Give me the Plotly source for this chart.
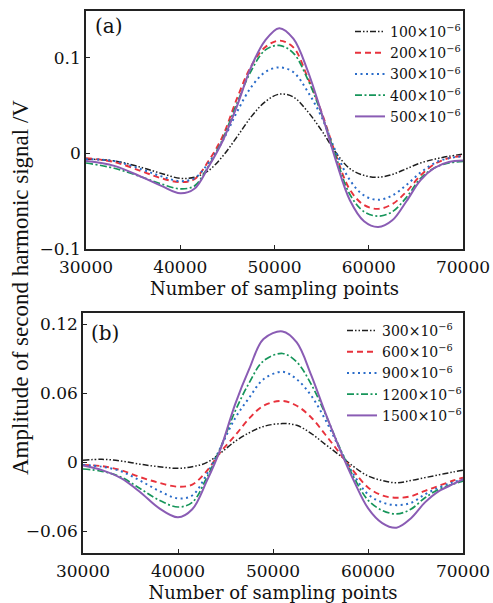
import plotly.graph_objects as go

# ---------------- data: panel (a) ----------------
xa = [30000, 33000, 36000, 38000, 40000, 41500, 43000, 44500, 46000, 47500, 49000,
      50500, 52000, 53500, 55000, 56500, 58000, 59500, 61000, 62500, 64000, 65500,
      67000, 68500, 70000]
a_names = ["100×10<sup>−6</sup>", "200×10<sup>−6</sup>", "300×10<sup>−6</sup>",
           "400×10<sup>−6</sup>", "500×10<sup>−6</sup>"]
a_100 = [-0.006, -0.0078, -0.015, -0.021, -0.026, -0.025, -0.018, -0.003, 0.017, 0.038, 0.054,
         0.062, 0.059, 0.044, 0.024, 0.001, -0.016, -0.023, -0.025, -0.022, -0.016, -0.010,
         -0.006, -0.003, -0.0007]
a_200 = [-0.005, -0.009, -0.019, -0.026, -0.030, -0.027, -0.008, 0.018, 0.057, 0.091, 0.111,
         0.118, 0.111, 0.080, 0.043, -0.001, -0.038, -0.054, -0.058, -0.053, -0.040, -0.023,
         -0.011, -0.005, -0.0024]
a_300 = [-0.006, -0.008, -0.017, -0.024, -0.029, -0.026, -0.010, 0.013, 0.043, 0.069, 0.085,
         0.090, 0.085, 0.065, 0.038, 0.002, -0.028, -0.044, -0.0486, -0.044, -0.033, -0.020,
         -0.010, -0.005, -0.003]
a_400 = [-0.010, -0.0155, -0.025, -0.032, -0.037, -0.034, -0.013, 0.015, 0.052, 0.086, 0.108,
         0.113, 0.105, 0.078, 0.041, -0.003, -0.043, -0.061, -0.0656, -0.061, -0.046, -0.026,
         -0.015, -0.010, -0.0083]
a_500 = [-0.008, -0.013, -0.025, -0.034, -0.0417, -0.037, -0.014, 0.013, 0.049, 0.090, 0.118,
         0.131, 0.120, 0.087, 0.042, -0.007, -0.049, -0.071, -0.077, -0.070, -0.050, -0.028,
         -0.015, -0.009, -0.0075]

# ---------------- data: panel (b) ----------------
xb = [30000, 32000, 34000, 36000, 38000, 40000, 41500, 43000, 44500, 46000, 47500, 49000,
      51000, 52500, 54000, 55500, 57000, 58500, 60000, 61500, 63000, 64500, 66000, 67500,
      69000, 70000]
b_names = ["300×10<sup>−6</sup>", "600×10<sup>−6</sup>", "900×10<sup>−6</sup>",
           "1200×10<sup>−6</sup>", "1500×10<sup>−6</sup>"]
b_300 = [0.0016, 0.0024, 0.001, -0.0018, -0.004, -0.0054, -0.004, -0.0005, 0.008, 0.018, 0.0255,
         0.031, 0.0335, 0.032, 0.025, 0.0155, 0.006, -0.004, -0.012, -0.016, -0.018, -0.016,
         -0.0135, -0.011, -0.0085, -0.0071]
b_600 = [-0.0025, -0.0035, -0.007, -0.013, -0.018, -0.0214, -0.0195, -0.008, 0.009, 0.023,
         0.038, 0.049, 0.0532, 0.049, 0.039, 0.024, 0.008, -0.008, -0.022, -0.029, -0.031,
         -0.0297, -0.025, -0.0205, -0.016, -0.0136]
b_900 = [-0.0025, -0.004, -0.008, -0.016, -0.025, -0.0315, -0.029, -0.011, 0.013, 0.038, 0.056,
         0.072, 0.0785, 0.072, 0.058, 0.037, 0.012, -0.011, -0.028, -0.035, -0.0374, -0.0355,
         -0.028, -0.022, -0.0175, -0.015]
b_1200 = [-0.006, -0.008, -0.013, -0.023, -0.033, -0.039, -0.035, -0.014, 0.013, 0.044, 0.069,
          0.088, 0.0944, 0.087, 0.068, 0.042, 0.013, -0.013, -0.033, -0.042, -0.045, -0.041,
          -0.031, -0.0235, -0.019, -0.0165]
b_1500 = [-0.003, -0.007, -0.014, -0.026, -0.040, -0.048, -0.041, -0.017, 0.012, 0.050, 0.081,
          0.107, 0.1136, 0.104, 0.076, 0.043, 0.012, -0.016, -0.040, -0.053, -0.057, -0.049,
          -0.035, -0.025, -0.019, -0.015]

x_ticks = [30000, 40000, 50000, 60000, 70000]
x_ticktext = ["30000", "40000", "50000", "60000", "70000"]
ya_ticks = [-0.1, 0, 0.1]
ya_ticktext = ["−0.1", "0", "0.1"]
yb_ticks = [-0.06, 0, 0.06, 0.12]
yb_ticktext = ["−0.06", "0", "0.06", "0.12"]

# ---------------- styles ----------------
colors = ["#1e1e1e", "#e8323c", "#2a6cc9", "#16955a", "#8a5cb4"]
dashes = ["6px,2px,1.5px,2px,1.5px,2px", "6px,4px", "2px,3.5px", "7px,2.5px,2px,2.5px", "solid"]
widths = [1.5, 1.9, 2.0, 1.7, 2.0]

SERIF = "DejaVu Serif"
fig = go.Figure()

for ys, nm, c, d, w in zip([a_100, a_200, a_300, a_400, a_500], a_names, colors, dashes, widths):
    fig.add_trace(go.Scatter(x=xa, y=ys, name=nm, mode="lines",
                             line=dict(color=c, dash=d, width=w, shape="spline", smoothing=1.0),
                             xaxis="x", yaxis="y", legend="legend"))
for ys, nm, c, d, w in zip([b_300, b_600, b_900, b_1200, b_1500], b_names, colors, dashes, widths):
    fig.add_trace(go.Scatter(x=xb, y=ys, name=nm, mode="lines",
                             line=dict(color=c, dash=d, width=w, shape="spline", smoothing=1.0),
                             xaxis="x2", yaxis="y2", legend="legend2"))

W, H = 493, 603
def px(x): return x / W
def py(y): return 1 - y / H

axis_common = dict(showline=True, linecolor="#222", linewidth=1.5, mirror=True,
                   ticks="inside", ticklen=4, tickcolor="#222", showgrid=False,
                   zeroline=False, automargin=False,
                   tickfont=dict(family=SERIF, size=17, color="#111"))

fig.update_layout(
    width=W, height=H, margin=dict(l=0, r=0, t=0, b=0),
    paper_bgcolor="white", plot_bgcolor="white",
    xaxis=dict(domain=[px(86), px(463)], range=[30000, 70000], anchor="y",
               tickvals=x_ticks, ticktext=x_ticktext, ticklabelstandoff=2,
               title=dict(text="Number of sampling points", standoff=6,
                          font=dict(family=SERIF, size=18, color="#111")),
               **axis_common),
    yaxis=dict(domain=[py(249), py(11)], range=[-0.1, 0.149], anchor="x",
               tickvals=ya_ticks, ticktext=ya_ticktext, **axis_common),
    xaxis2=dict(domain=[px(83), px(463)], range=[30000, 70000], anchor="y2",
                tickvals=x_ticks, ticktext=x_ticktext, ticklabelstandoff=2,
                title=dict(text="Number of sampling points", standoff=6,
                           font=dict(family=SERIF, size=18, color="#111")),
                **axis_common),
    yaxis2=dict(domain=[py(553), py(313)], range=[-0.079, 0.1296], anchor="x2",
                tickvals=yb_ticks, ticktext=yb_ticktext, **axis_common),
    legend=dict(x=px(350), y=py(16), xanchor="left", yanchor="top",
                bgcolor="rgba(0,0,0,0)", font=dict(family=SERIF, size=14, color="#111"),
                tracegroupgap=0, itemwidth=30),
    legend2=dict(x=px(342), y=py(315), xanchor="left", yanchor="top",
                 bgcolor="rgba(0,0,0,0)", font=dict(family=SERIF, size=14, color="#111"),
                 tracegroupgap=0, itemwidth=30),
    showlegend=True,
)

fig.add_annotation(text="(a)", x=px(93), y=py(26), xref="paper", yref="paper",
                   xanchor="left", yanchor="middle", showarrow=False,
                   font=dict(family=SERIF, size=20, color="#111"))
fig.add_annotation(text="(b)", x=px(89), y=py(333), xref="paper", yref="paper",
                   xanchor="left", yanchor="middle", showarrow=False,
                   font=dict(family=SERIF, size=20, color="#111"))
fig.add_annotation(text="Amplitude of second harmonic signal /V", x=px(20), y=py(288),
                   xref="paper", yref="paper", xanchor="center", yanchor="middle",
                   textangle=-90, showarrow=False,
                   font=dict(family="Liberation Serif", size=23, color="#111"))

fig.write_html("out.html")
